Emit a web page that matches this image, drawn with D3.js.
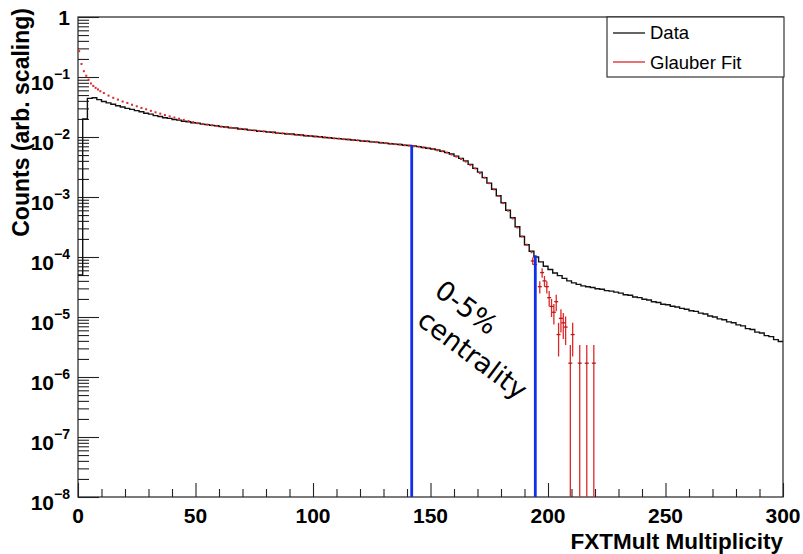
<!DOCTYPE html>
<html>
<head>
<meta charset="utf-8">
<script src="https://cdn.jsdelivr.net/npm/d3@7"></script>
<style>
body { margin: 0; background: #fff; }
text { font-family: "Liberation Sans", Arial, sans-serif; }
</style>
</head>
<body>
<div id="chart"></div>
<script>
// data histogram, 2-unit bins starting at 0
var dataBinWidth = 2;
var dataCounts = [
5e-5, 0.020, 0.044, 0.045, 0.042, 0.039, 0.037, 0.0352, 0.0331, 0.0316,
0.0300, 0.0289, 0.0275, 0.0263, 0.0249, 0.0241, 0.0227, 0.0219, 0.0209, 0.0204,
0.0196, 0.0191, 0.0183, 0.0180, 0.0173, 0.0170, 0.0164, 0.0161, 0.0156, 0.0154,
0.0149, 0.0147, 0.0142, 0.0141, 0.0136, 0.0135, 0.0130, 0.0129, 0.0125, 0.0124,
0.0121, 0.0120, 0.0116, 0.0115, 0.0112, 0.0112, 0.0109, 0.0108, 0.0105, 0.0104,
0.0102, 0.0101, 0.0098, 0.0097, 0.0095, 0.0094, 0.0092, 0.0091, 0.0089, 0.0088,
0.0086, 0.0085, 0.0083, 0.0082, 0.0080, 0.0079, 0.0077, 0.0076, 0.0075, 0.0073,
0.0072, 0.0071, 0.0069, 0.0067, 0.0065, 0.0063, 0.0061, 0.0058, 0.0055, 0.0052,
0.0048, 0.0044, 0.0040, 0.0035, 0.0030, 0.0026, 0.0021, 0.0017, 0.00135, 0.00105,
8.0e-4, 6.0e-4, 4.5e-4, 3.2e-4, 2.2e-4, 1.6e-4, 1.25e-4, 1.0e-4, 8.3e-5, 7.0e-5,
6.2e-5, 5.4e-5, 4.9e-5, 4.4e-5, 4.0e-5, 3.7e-5, 3.5e-5, 3.3e-5, 3.2e-5, 3.1e-5,
2.95e-5, 2.9e-5, 2.75e-5, 2.7e-5, 2.6e-5, 2.5e-5, 2.35e-5, 2.3e-5, 2.15e-5, 2.1e-5,
1.98e-5, 1.92e-5, 1.8e-5, 1.74e-5, 1.63e-5, 1.6e-5, 1.51e-5, 1.47e-5, 1.39e-5, 1.35e-5,
1.27e-5, 1.24e-5, 1.16e-5, 1.12e-5, 1.04e-5, 1.0e-5, 9.3e-6, 9.0e-6, 8.3e-6, 8.0e-6,
7.4e-6, 7.1e-6, 6.4e-6, 6.2e-6, 5.6e-6, 5.4e-6, 4.9e-6, 4.7e-6, 4.2e-6, 3.9e-6
];

// glauber fit, low multiplicity points
var fitLowMult = [0.5, 1.5, 2.5, 3.5, 4.5, 5.5, 6.5, 7.5, 8.5, 9.5];
var fitLowCounts = [0.27, 0.165, 0.125, 0.105, 0.090, 0.078, 0.071, 0.066, 0.062, 0.058];

// glauber fit, points every 2 from 11 to 193
var fitMainStart = 11, fitMainStep = 2;
var fitMainCounts = [
0.054, 0.049, 0.045, 0.042, 0.039, 0.037, 0.0345, 0.0325, 0.0305, 0.029,
0.0273, 0.0258, 0.0245, 0.0232, 0.0221, 0.0211, 0.0202, 0.0193, 0.0185, 0.0177,
0.0170, 0.0165, 0.0161, 0.0157, 0.0153,
0.0149, 0.0146, 0.0143, 0.0140, 0.0137, 0.0134, 0.0131, 0.0129, 0.0126, 0.0124,
0.0121, 0.0119, 0.0117, 0.0115, 0.0113, 0.0111, 0.0109, 0.0107, 0.0105, 0.0104,
0.0102, 0.0100, 0.0099, 0.0097, 0.0095, 0.0094, 0.0092, 0.0091, 0.0089, 0.0088,
0.0086, 0.0085, 0.0083, 0.0082, 0.0080, 0.0079, 0.0077, 0.0076, 0.0075, 0.0073,
0.0072, 0.0070, 0.0069, 0.0067, 0.0065, 0.0063, 0.0060, 0.0058, 0.0055, 0.0051,
0.0047, 0.0043, 0.0039, 0.0034, 0.0030, 0.0025, 0.0021, 0.0017, 0.00134, 0.00104,
7.9e-4, 5.9e-4, 4.4e-4, 3.1e-4, 2.2e-4, 1.6e-4, 1.2e-4
];

// glauber fit tail with error bars
var fitTailMult = [193.5, 194.5, 196.5, 197.5, 198.5, 199.5, 200.5, 201.5, 202.5, 203.5,
  204.5, 205.5, 206.5, 207.5, 209.5, 210.5, 213.5, 216.5, 219.5];
var fitTailCounts = [8.6e-5, 7.5e-5, 3.2e-5, 5.5e-5, 4.0e-5, 3.2e-5, 2.1e-5, 1.5e-5, 1.2e-5, 1.8e-5,
  5.1e-6, 9.5e-6, 8.0e-6, 6.8e-6, 1.7e-6, 5.1e-6, 1.7e-6, 1.7e-6, 1.7e-6];
var fitTailErr = [1.2e-5, 1.1e-5, 7.4e-6, 9.7e-6, 8.2e-6, 7.4e-6, 6.0e-6, 5.0e-6, 4.5e-6, 5.5e-6,
  2.9e-6, 4.0e-6, 3.7e-6, 3.4e-6, 1.7e-6, 2.9e-6, 1.7e-6, 1.7e-6, 1.7e-6];

// centrality cut lines
var cutMult = [142, 194.6];
var cutTop = [7.3e-3, 1.07e-4];

var xMajor = [0, 50, 100, 150, 200, 250, 300];
var yMajor = [1, 1e-1, 1e-2, 1e-3, 1e-4, 1e-5, 1e-6, 1e-7, 1e-8];
var yExp = ["", "\u22121", "\u22122", "\u22123", "\u22124", "\u22125", "\u22126", "\u22127", "\u22128"];

var margin = {top: 17, right: 20, bottom: 57, left: 78},
  width = 803 - margin.left - margin.right,
  height = 554 - margin.top - margin.bottom;

var root = d3.select("#chart")
  .append("svg")
  .attr("width", 803)
  .attr("height", 554);

var svg = root.append("g")
  .attr("transform", "translate(" + margin.left + "," + margin.top + ")");

var x = d3.scaleLinear().domain([0, 300]).range([0, width]);
var y = d3.scaleLog().domain([1e-8, 1]).range([height, 0]);

svg.append("clipPath").attr("id", "plotclip")
  .append("rect").attr("width", width).attr("height", height);

// minor ticks
var xMinor = d3.range(0, 301, 10).filter(function(d) { return d % 50 != 0; });
var yMinor = [];
yMajor.slice(1).forEach(function(d) {
  for (var k = 2; k <= 9; k++) yMinor.push(d * k);
});

svg.append("g")
  .attr("transform", "translate(0," + height + ")")
  .call(d3.axisTop(x).tickValues(xMinor).tickSize(8).tickFormat(""))
  .call(function(g) { g.select(".domain").remove(); });
svg.append("g")
  .attr("transform", "translate(0," + height + ")")
  .call(d3.axisTop(x).tickValues(xMajor).tickSize(14).tickFormat(""))
  .call(function(g) { g.select(".domain").remove(); });
svg.append("g")
  .call(d3.axisRight(y).tickValues(yMinor).tickSize(11).tickFormat(""))
  .call(function(g) { g.select(".domain").remove(); });
svg.append("g")
  .call(d3.axisRight(y).tickValues(yMajor).tickSize(21).tickFormat(""))
  .call(function(g) { g.select(".domain").remove(); });
svg.selectAll(".tick line").attr("stroke", "#222").attr("stroke-width", 1.1);

// frame
svg.append("rect")
  .attr("width", width).attr("height", height)
  .attr("fill", "none").attr("stroke", "#222").attr("stroke-width", 1.2);

// tick labels
svg.selectAll(".xlab")
  .data(xMajor).enter().append("text")
  .attr("x", function(d) { return x(d); })
  .attr("y", height + 26)
  .attr("text-anchor", "middle")
  .style("font-size", "21px").style("font-weight", "bold")
  .text(function(d) { return d; });

var ylab = svg.selectAll(".ylab")
  .data(yMajor).enter().append("text")
  .attr("x", -8)
  .attr("y", function(d, i) { return y(d) + (i == 0 ? 8 : 13); })
  .attr("text-anchor", "end")
  .style("font-size", "21px").style("font-weight", "bold");
ylab.append("tspan").text(function(d, i) { return i == 0 ? "1" : "10"; });
ylab.append("tspan")
  .attr("dy", -11)
  .style("font-size", "14px")
  .text(function(d, i) { return yExp[i]; });

// axis titles
root.append("text")
  .attr("transform", "translate(29,8) rotate(-90)")
  .attr("text-anchor", "end")
  .style("font-size", "23px").style("font-weight", "bold")
  .text("Counts (arb. scaling)");
root.append("text")
  .attr("x", 783).attr("y", 549)
  .attr("text-anchor", "end")
  .style("font-size", "22.5px").style("font-weight", "bold")
  .text("FXTMult Multiplicity");

var plot = svg.append("g").attr("clip-path", "url(#plotclip)");

// data histogram as steps
var steps = dataCounts.map(function(d, i) { return [i * dataBinWidth, d]; });
steps.push([dataCounts.length * dataBinWidth, dataCounts[dataCounts.length - 1]]);
plot.append("path")
  .datum(steps)
  .attr("fill", "none")
  .attr("stroke", "#111")
  .attr("stroke-width", 1.4)
  .attr("d", d3.line()
    .x(function(d) { return x(d[0]); })
    .y(function(d) { return y(d[1]); })
    .curve(d3.curveStepAfter));

// glauber fit points
var fitPts = fitLowMult.map(function(m, i) { return {m: m, v: fitLowCounts[i], e: 0}; })
  .concat(fitMainCounts.map(function(v, i) { return {m: fitMainStart + i * fitMainStep, v: v, e: 0}; }));
var tailPts = fitTailMult.map(function(m, i) { return {m: m, v: fitTailCounts[i], e: fitTailErr[i]}; });

plot.selectAll(".fitdot")
  .data(fitPts).enter().append("rect")
  .attr("x", function(d) { return x(d.m) - 1; })
  .attr("y", function(d) { return y(d.v) - 1; })
  .attr("width", 2).attr("height", 2)
  .attr("fill", "#dc2828");

function lowY(d) {
  var lo = d.v - d.e;
  return lo <= 1e-8 ? height + 5 : y(lo);
}
plot.selectAll(".fiterr")
  .data(tailPts).enter().append("line")
  .attr("x1", function(d) { return x(d.m); })
  .attr("x2", function(d) { return x(d.m); })
  .attr("y1", function(d) { return y(d.v + d.e); })
  .attr("y2", lowY)
  .attr("stroke", "#dc2828").attr("stroke-width", 1.3);
plot.selectAll(".fitbar")
  .data(tailPts).enter().append("line")
  .attr("x1", function(d) { return x(d.m) - 2; })
  .attr("x2", function(d) { return x(d.m) + 2; })
  .attr("y1", function(d) { return y(d.v); })
  .attr("y2", function(d) { return y(d.v); })
  .attr("stroke", "#b81818").attr("stroke-width", 1.3);

// centrality cuts
plot.selectAll(".cut")
  .data(cutMult).enter().append("line")
  .attr("x1", function(d) { return x(d); })
  .attr("x2", function(d) { return x(d); })
  .attr("y1", function(d, i) { return y(cutTop[i]); })
  .attr("y2", height)
  .attr("stroke", "#1030e8").attr("stroke-width", 2.8);

// annotation
var note = root.append("g")
  .attr("transform", "translate(433,294) rotate(37)")
  .style("font-size", "27px");
note.append("text").attr("x", 0).attr("y", 0)
  .style("font-family", "'DejaVu Sans', sans-serif").text("0-5%");
note.append("text").attr("x", 4).attr("y", 34)
  .style("font-family", "'DejaVu Sans', sans-serif").text("centrality");

// legend
var legend = root.append("g");
legend.append("rect")
  .attr("x", 607).attr("y", 17).attr("width", 177).attr("height", 60)
  .attr("fill", "#fff").attr("stroke", "#222").attr("stroke-width", 1.1);
var legItems = [["Data", "#111"], ["Glauber Fit", "#dc2828"]];
legItems.forEach(function(d, i) {
  legend.append("line")
    .attr("x1", 613).attr("x2", 645)
    .attr("y1", 33 + i * 29).attr("y2", 33 + i * 29)
    .attr("stroke", d[1]).attr("stroke-width", 1.3);
  legend.append("text")
    .attr("x", 650).attr("y", 39 + i * 30)
    .style("font-size", "18.5px")
    .text(d[0]);
});
</script>
</body>
</html>
